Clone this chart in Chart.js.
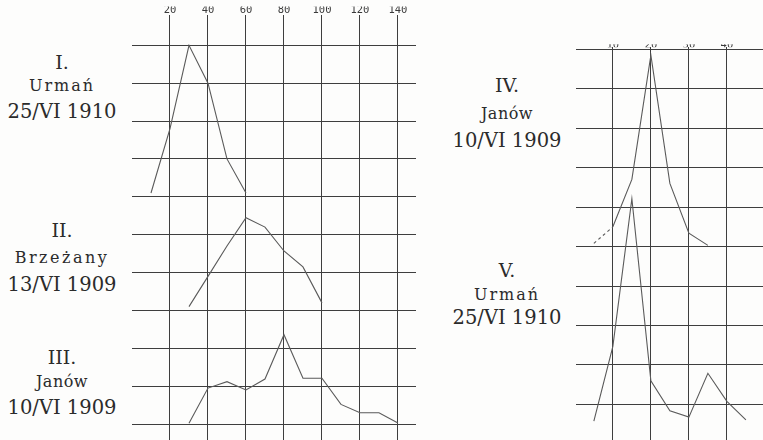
<!DOCTYPE html>
<html>
<head>
<meta charset="utf-8">
<script src="https://cdn.jsdelivr.net/npm/chart.js@4"></script>
<style>
  html, body { margin: 0; padding: 0; background: #fdfdfc; }
  #page { position: relative; width: 763px; height: 440px; overflow: hidden; background: #fdfdfc; }
  .plot { position: absolute; }
  .lbl { position: absolute; transform: translate(-50%, -50%); font-family: "DejaVu Serif", serif;
         color: #2b2b2b; white-space: nowrap; line-height: 1; }
  .num { font-size: 19px; }
  .place { font-size: 16px; }
  .date { font-size: 19.5px; }
</style>
</head>
<body>
<div id="page">
  <div class="plot" style="left:132px; top:0; width:284px; height:440px;"><canvas id="left"></canvas></div>
  <div class="plot" style="left:576px; top:0; width:187px; height:440px;"><canvas id="right"></canvas></div>
</div>
<script>
// Size classes and share of individuals (%) in each class, per sample.
const sizesI   = [10, 20, 30, 40, 50, 60];
const pctI     = [1, 18, 40, 30, 10, 1];

const sizesII  = [30, 40, 50, 60, 70, 80, 90, 100];
const pctII    = [1, 9, 17, 24.5, 22, 15.7, 11.5, 2];

const sizesIII = [30, 40, 50, 60, 70, 80, 90, 100, 110, 120, 130, 140];
const pctIII   = [0.2, 9.5, 11.2, 9, 11.9, 23.6, 12.1, 12.1, 5.2, 3, 3, 0.3];

const sizesIV  = [5, 10, 15, 20, 25, 30, 35];
const pctIV    = [0.8, 5, 17, 48.5, 16, 3.4, 0.3];

const sizesV   = [5, 10, 15, 20, 25, 30, 35, 40, 45];
const pctV     = [0.8, 19.7, 57.1, 11, 3.4, 1.8, 12.9, 5.8, 1.1];

// Tick labels along the top of each grid
const ticksLeft  = [20, 40, 60, 80, 100, 120, 140];
const ticksRight = [10, 20, 30, 40];

// Sample captions
const captions = [
  ["I.",   "Urmań",    "25/VI 1910"],
  ["II.",  "Brzeżany", "13/VI 1909"],
  ["III.", "Janów",    "10/VI 1909"],
  ["IV.",  "Janów",    "10/VI 1909"],
  ["V.",   "Urmań",    "25/VI 1910"]
];

// Layout: each curve sits on its own baseline row of the shared grid
const layout = [
  { base: 60, cx: 62,  rows: [62, 86, 112],  spacing: [0, 2, 0] },
  { base: 30, cx: 62,  rows: [230, 258, 285], spacing: [0, 2.5, 0] },
  { base: 0,  cx: 62,  rows: [357, 382, 408], spacing: [0, 0.5, 0] },
  { base: 40, cx: 507, rows: [85, 114, 141],  spacing: [0, 0.5, 0] },
  { base: -5, cx: 507, rows: [270, 295, 318], spacing: [0, 2, 0] }
];

const page = document.getElementById('page');
captions.forEach((lines, p) => {
  const cls = ['num', 'place', 'date'];
  lines.forEach((t, i) => {
    const d = document.createElement('div');
    d.className = 'lbl ' + cls[i];
    d.textContent = t;
    d.style.left = layout[p].cx + 'px';
    d.style.top = layout[p].rows[i] + 'px';
    d.style.letterSpacing = layout[p].spacing[i] + 'px';
    page.appendChild(d);
  });
});

const LINE = '#5a5a5a';
const GRID = '#3e3e3e';

function curve(sizes, pct, base, extra) {
  return Object.assign({
    data: sizes.map((s, i) => ({ x: s, y: base + pct[i] })),
    borderColor: LINE,
    borderWidth: 1.1,
    pointRadius: 0,
    tension: 0,
    fill: false
  }, extra || {});
}

function grid(canvasId, datasets, x, y) {
  return new Chart(document.getElementById(canvasId), {
    type: 'line',
    data: { datasets },
    options: {
      responsive: true,
      maintainAspectRatio: false,
      animation: false,
      layout: { padding: { top: x.padTop, left: 0, right: 0, bottom: 0 } },
      plugins: { legend: { display: false }, tooltip: { enabled: false } },
      scales: {
        x: {
          type: 'linear', position: 'top', min: x.min, max: x.max,
          afterBuildTicks: a => { a.ticks = x.ticks.map(v => ({ value: v })); },
          grid: { color: GRID, lineWidth: 1, drawTicks: x.tickLength > 0, tickLength: x.tickLength, tickColor: GRID },
          border: { display: false },
          ticks: { padding: x.pad, autoSkip: false, maxRotation: 0, color: '#3a3a3a',
                   font: { family: 'DejaVu Sans Mono', size: 10.5 } }
        },
        y: {
          type: 'linear', min: y.min, max: y.max,
          afterBuildTicks: a => { a.ticks = y.ticks.map(v => ({ value: v })); },
          grid: { color: GRID, lineWidth: 1, drawTicks: false },
          border: { display: false },
          ticks: { display: false }
        }
      }
    }
  });
}

const rowsLeft = [0, 10, 20, 30, 40, 50, 60, 70, 80, 90, 100];
const rowsRight = [0, 10, 20, 30, 40, 50, 60, 70, 80, 90];

grid('left', [
  curve(sizesI, pctI, layout[0].base),
  curve(sizesII, pctII, layout[1].base),
  curve(sizesIII, pctIII, layout[2].base)
], { min: 0, max: 149.5, ticks: ticksLeft, tickLength: 3, pad: -2, padTop: 6.4 },
   { min: -4.2, max: 107.2, ticks: rowsLeft });

grid('right', [
  curve(sizesIV, pctIV, layout[3].base, {
    segment: { borderDash: c => c.p0DataIndex === 0 ? [3, 3] : undefined }
  }),
  curve(sizesV, pctV, layout[4].base)
], { min: 0.3, max: 49.5, ticks: ticksRight, tickLength: 0, pad: -4.8, padTop: 44.2 },
   { min: -9, max: 90.5, ticks: rowsRight });
</script>
</body>
</html>
